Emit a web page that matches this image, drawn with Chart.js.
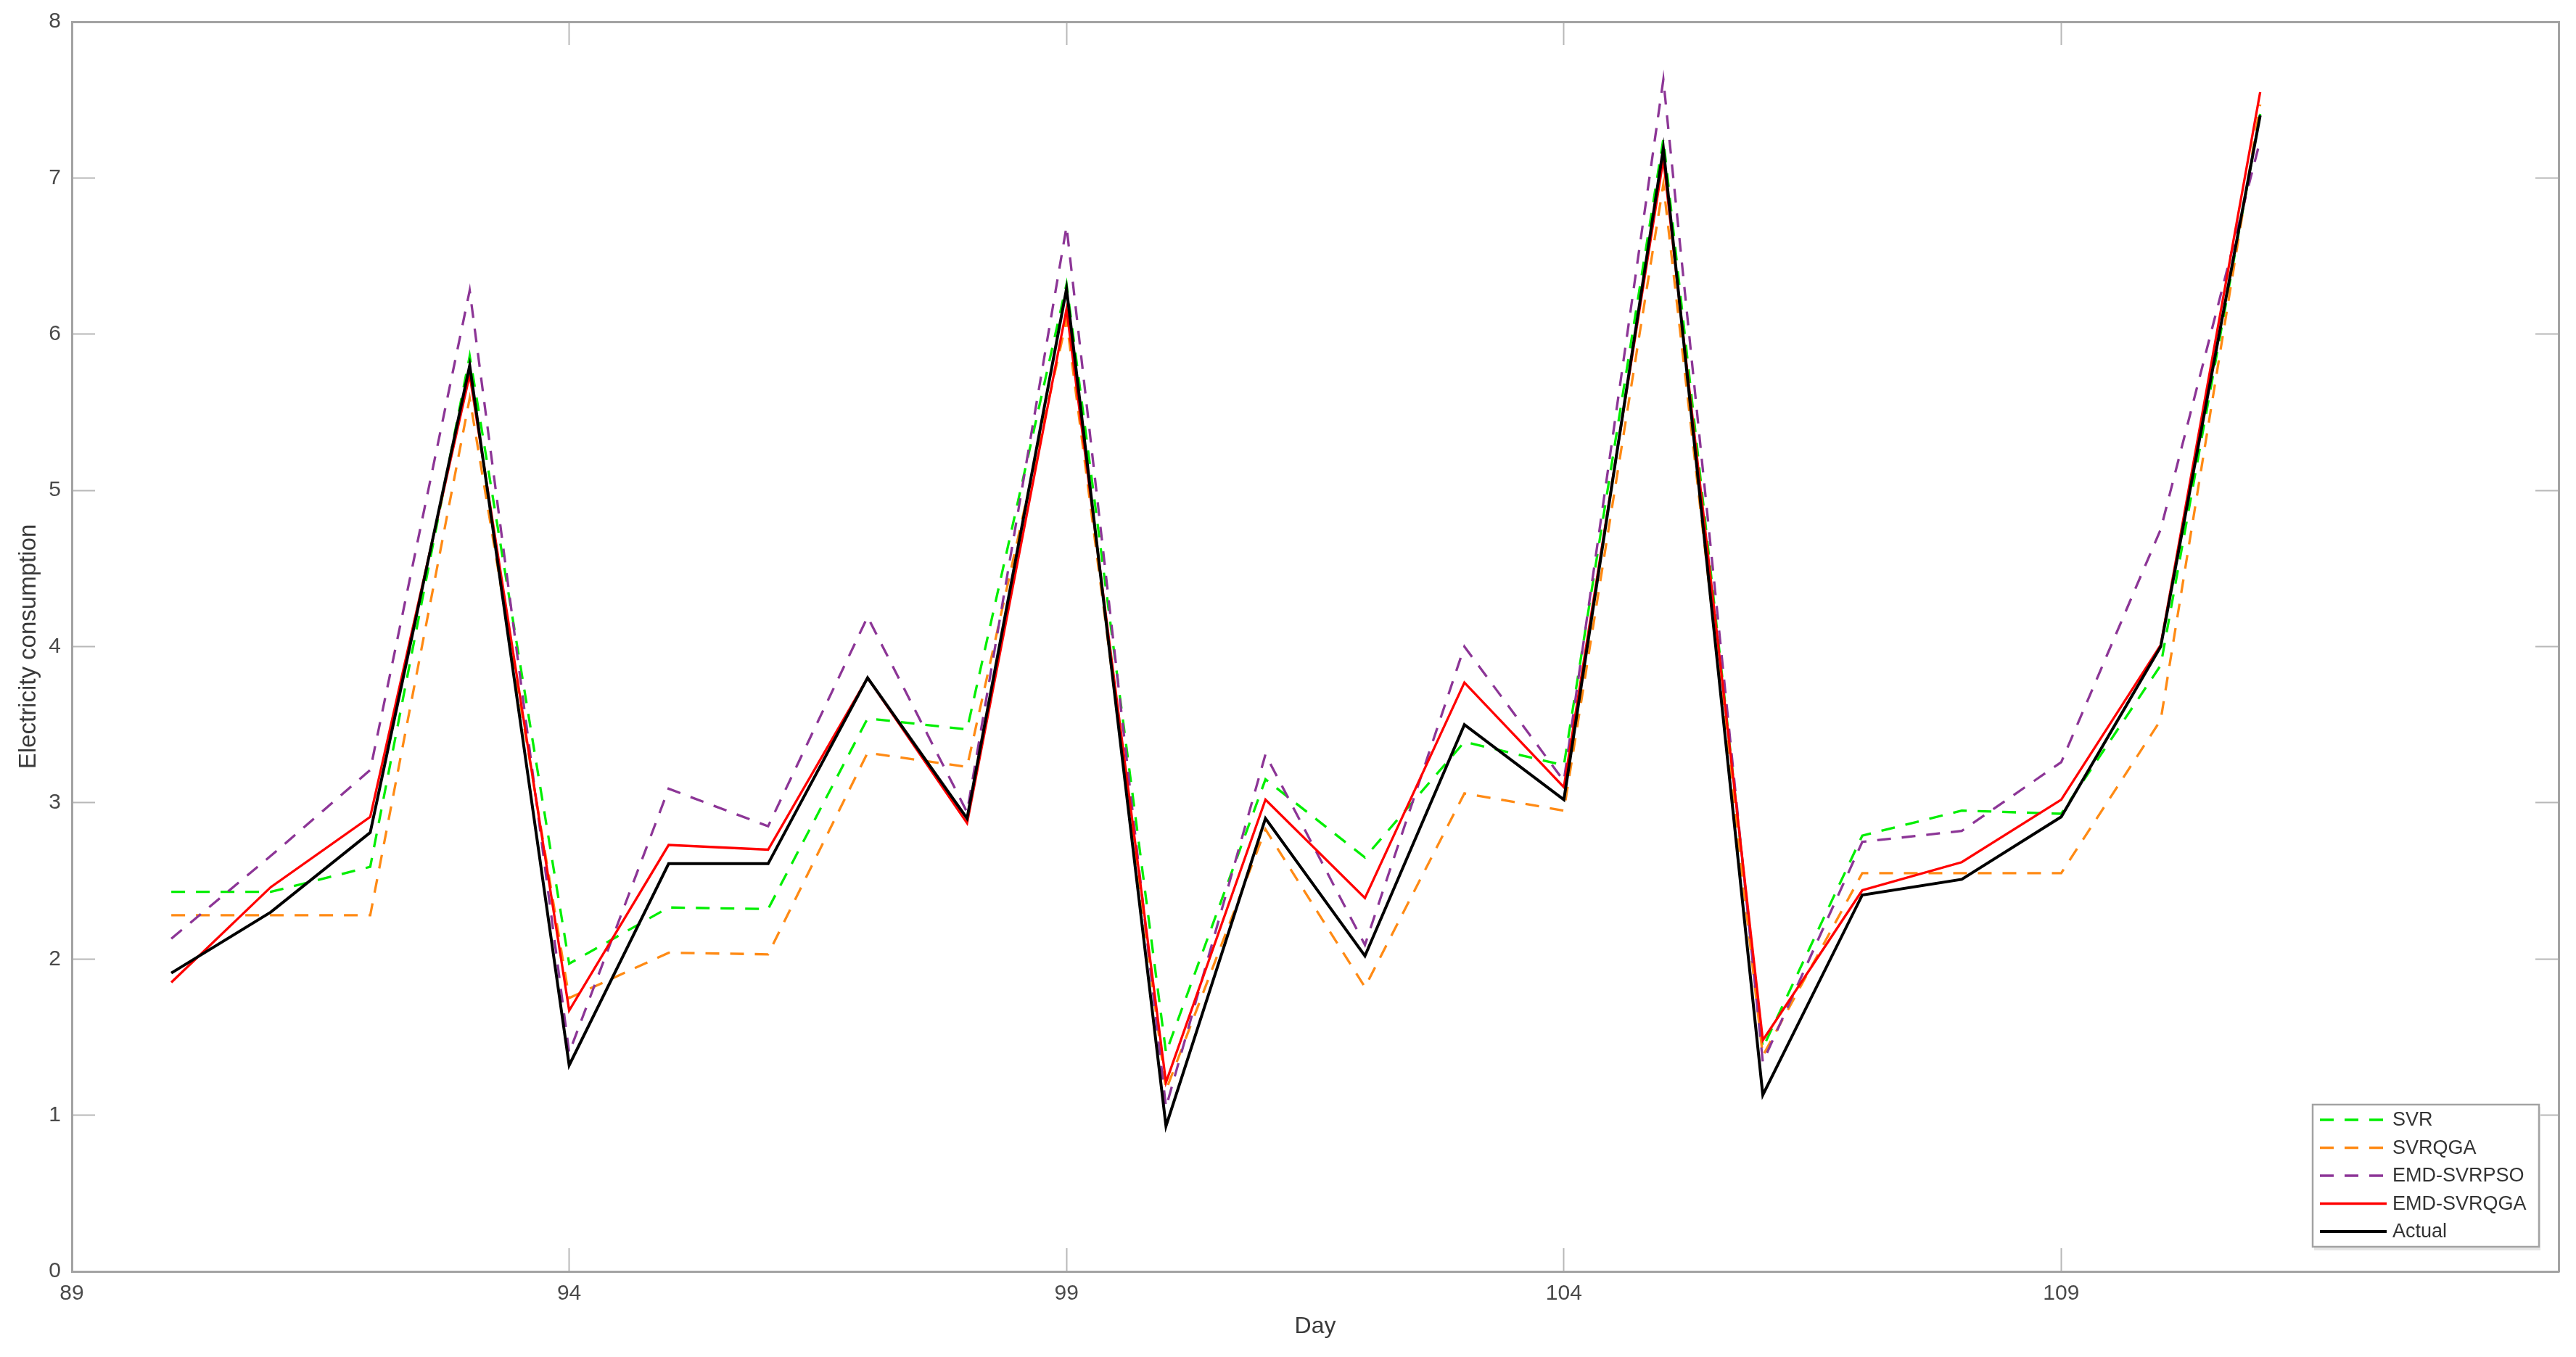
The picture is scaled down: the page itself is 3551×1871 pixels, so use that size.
<!DOCTYPE html>
<html>
<head>
<meta charset="utf-8">
<title>Electricity consumption forecast</title>
<script src="https://cdn.jsdelivr.net/npm/chart.js@4.4.1/dist/chart.umd.min.js"></script>
<style>
  html, body { margin: 0; padding: 0; background: #fff; }
  #chart { display: block; }
</style>
</head>
<body>
<canvas id="chart" width="3551" height="1871" style="width:3551px;height:1871px"></canvas>
<script>
// days on the x axis
const days = [90, 91, 92, 93, 94, 95, 96, 97, 98, 99, 100, 101, 102, 103, 104, 105, 106, 107, 108, 109, 110, 111];

// series values
const svr       = [2.43, 2.43, 2.59, 5.86, 1.97, 2.33, 2.32, 3.54, 3.47, 6.32, 1.40, 3.15, 2.65, 3.39, 3.24, 7.25, 1.43, 2.79, 2.95, 2.93, 3.88, 7.41];
const svrqga    = [2.28, 2.28, 2.28, 5.59, 1.75, 2.04, 2.03, 3.32, 3.23, 6.09, 1.16, 2.83, 1.82, 3.06, 2.95, 6.96, 1.38, 2.55, 2.55, 2.55, 3.53, 7.47];
const emdSvrpso = [2.13, 2.66, 3.21, 6.28, 1.40, 3.09, 2.85, 4.19, 2.94, 6.69, 1.05, 3.31, 2.09, 4.00, 3.14, 7.63, 1.34, 2.75, 2.82, 3.26, 4.75, 7.24];
const emdSvrqga = [1.85, 2.46, 2.91, 5.74, 1.67, 2.73, 2.70, 3.80, 2.87, 6.16, 1.21, 3.02, 2.39, 3.77, 3.10, 7.12, 1.48, 2.44, 2.62, 3.02, 4.01, 7.55];
const actual    = [1.91, 2.30, 2.81, 5.80, 1.32, 2.61, 2.61, 3.80, 2.90, 6.29, 0.93, 2.90, 2.02, 3.50, 3.02, 7.19, 1.13, 2.41, 2.51, 2.91, 4.00, 7.40];

// axis ticks
const xTicks = [89, 94, 99, 104, 109];
const yTicks = [0, 1, 2, 3, 4, 5, 6, 7, 8];

const AXIS_COLOR = "#a3a3a3";
const TEXT_COLOR = "#4a4a4a";
const DASH = [19, 15];

Chart.defaults.font.family = "'Liberation Sans', Arial, Helvetica, sans-serif";
Chart.defaults.color = TEXT_COLOR;

function toPoints(values) {
    return values.map((v, i) => ({ x: days[i], y: v }));
}

function fixedTicks(list) {
    return scale => { scale.ticks = list.map(v => ({ value: v })); };
}

// pin the axis box sizes so the plot area lands where the figure has it
function fitSize(prop, size) {
    return s => {
        s[prop] = size;
        s.paddingTop = s.paddingBottom = s.paddingLeft = s.paddingRight = 0;
    };
}

const datasets = [
    { label: "SVR",        data: toPoints(svr),       borderColor: "#00ee00", borderWidth: 3.3, borderDash: DASH, order: 5 },
    { label: "SVRQGA",     data: toPoints(svrqga),    borderColor: "#ff8a14", borderWidth: 3.3, borderDash: DASH, order: 4 },
    { label: "EMD-SVRPSO", data: toPoints(emdSvrpso), borderColor: "#8c3596", borderWidth: 3.3, borderDash: DASH, order: 3 },
    { label: "EMD-SVRQGA", data: toPoints(emdSvrqga), borderColor: "#ff0000", borderWidth: 3.3, borderDash: [], order: 2 },
    { label: "Actual",     data: toPoints(actual),    borderColor: "#000000", borderWidth: 4,   borderDash: [], order: 1 },
];

// boxed legend sitting in the lower right corner of the plot, matlab style
const boxLegend = {
    id: "boxLegend",
    afterDatasetsDraw(chart) {
        const ctx = chart.ctx;
        const area = chart.chartArea;
        const sets = chart.data.datasets;
        const rowH = 38.5, padY = 21, w = 312;
        const h = padY * 2 + rowH * (sets.length - 1);
        const left = area.right - 27 - w;
        const top = area.bottom - 34 - h;

        ctx.save();
        ctx.fillStyle = "#e6e6e6";
        ctx.fillRect(left + 2, top + 3, w, h + 2);
        ctx.fillStyle = "#ffffff";
        ctx.fillRect(left, top, w, h);
        ctx.strokeStyle = AXIS_COLOR;
        ctx.lineWidth = 2.5;
        ctx.strokeRect(left, top, w, h);

        ctx.font = "27px 'Liberation Sans', Arial, sans-serif";
        ctx.textBaseline = "middle";
        ctx.textAlign = "left";
        sets.forEach((ds, i) => {
            const y = top + padY + i * rowH;
            ctx.beginPath();
            ctx.setLineDash(ds.borderDash || []);
            ctx.strokeStyle = ds.borderColor;
            ctx.lineWidth = ds.borderWidth;
            ctx.moveTo(left + 10, y);
            ctx.lineTo(left + 102, y);
            ctx.stroke();
            ctx.setLineDash([]);
            ctx.fillStyle = "#333333";
            ctx.fillText(ds.label, left + 110, y + 1);
        });
        ctx.restore();
    }
};

const ctx = document.getElementById("chart").getContext("2d");
new Chart(ctx, {
    type: "line",
    data: { datasets: datasets },
    options: {
        responsive: false,
        devicePixelRatio: 1,
        animation: false,
        layout: { padding: { top: 30, right: 24, left: 0, bottom: 0 } },
        elements: {
            line: { tension: 0, fill: false, borderCapStyle: "butt", borderJoinStyle: "miter" },
            point: { radius: 0, hoverRadius: 0 },
        },
        plugins: {
            legend: { display: false },
            tooltip: { enabled: false },
        },
        scales: {
            x: {
                type: "linear",
                position: "bottom",
                min: 89,
                max: 114,
                afterBuildTicks: fixedTicks(xTicks),
                afterFit: fitSize("height", 118),
                ticks: { autoSkip: false, maxRotation: 0, padding: 45, font: { size: 30 }, color: TEXT_COLOR },
                grid: { drawOnChartArea: false, drawTicks: true, tickLength: -32, tickColor: "#b8b8b8", tickWidth: 2 },
                border: { display: true, color: AXIS_COLOR, width: 3 },
                title: { display: true, text: "Day", font: { size: 32 }, color: "#3a3a3a", padding: { top: 0, bottom: 23 } },
            },
            y: {
                type: "linear",
                position: "left",
                min: 0,
                max: 8,
                afterBuildTicks: fixedTicks(yTicks),
                afterFit: fitSize("width", 99),
                ticks: { padding: 47, font: { size: 30 }, color: TEXT_COLOR },
                grid: { drawOnChartArea: false, drawTicks: true, tickLength: -32, tickColor: "#b8b8b8", tickWidth: 2 },
                border: { display: true, color: AXIS_COLOR, width: 3 },
                title: { display: true, text: "Electricity consumption", font: { size: 33 }, color: "#3a3a3a", padding: { top: 20, bottom: 0 } },
            },
            // mirrored box edges with inward ticks
            x2: {
                type: "linear",
                position: "top",
                min: 89,
                max: 114,
                afterBuildTicks: fixedTicks(xTicks),
                afterFit: fitSize("height", 0),
                ticks: { display: false },
                grid: { drawOnChartArea: false, drawTicks: true, tickLength: -32, tickColor: "#b8b8b8", tickWidth: 2 },
                border: { display: true, color: AXIS_COLOR, width: 3 },
            },
            y2: {
                type: "linear",
                position: "right",
                min: 0,
                max: 8,
                afterBuildTicks: fixedTicks(yTicks),
                afterFit: fitSize("width", 0),
                ticks: { display: false },
                grid: { drawOnChartArea: false, drawTicks: true, tickLength: -32, tickColor: "#b8b8b8", tickWidth: 2 },
                border: { display: true, color: AXIS_COLOR, width: 3 },
            },
        },
    },
    plugins: [boxLegend],
});
</script>
</body>
</html>
